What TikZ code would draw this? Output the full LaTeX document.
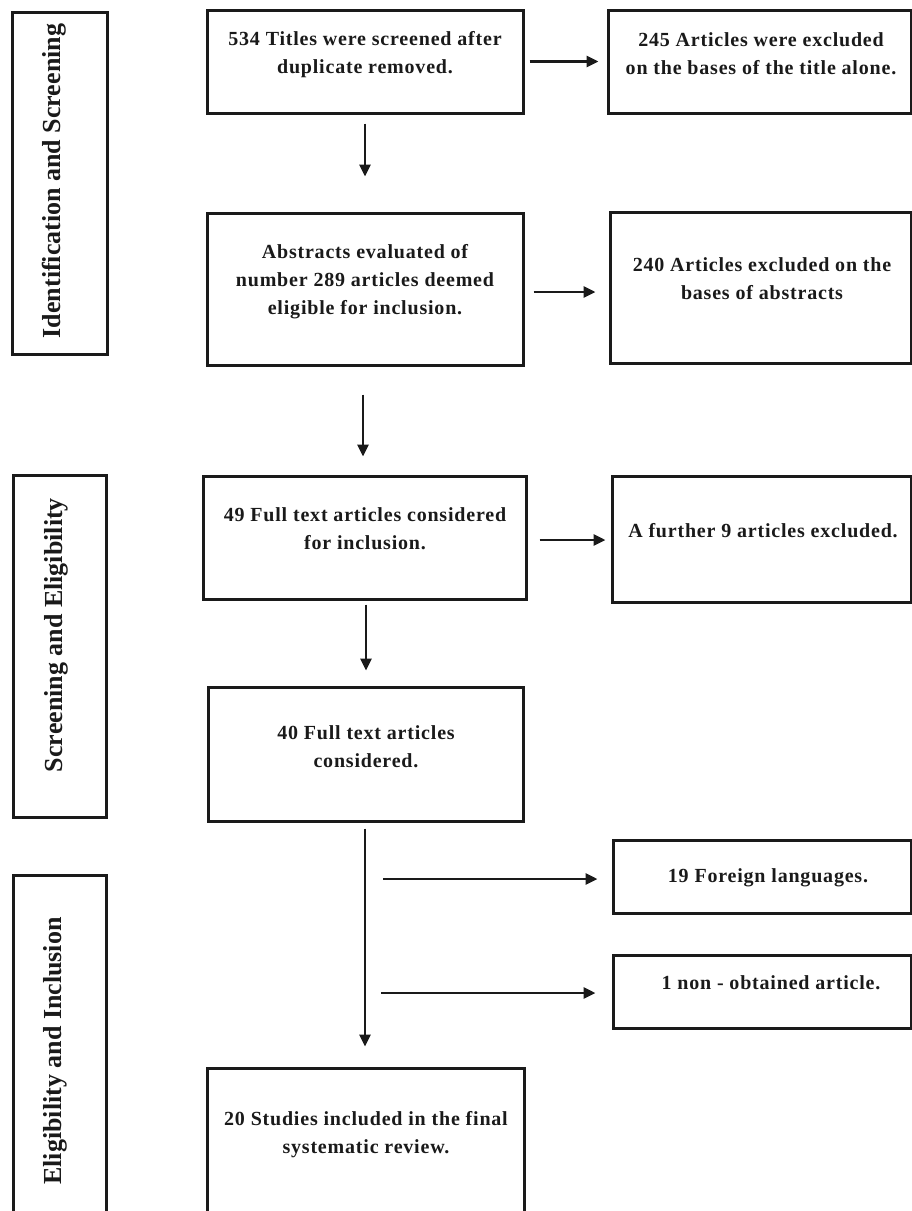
\documentclass[tikz,border=0pt]{standalone}
\usepackage{fontspec}
\setmainfont{Liberation Serif}
\usetikzlibrary{arrows.meta,calc}
\definecolor{ink}{HTML}{1A1A1A}
\begin{document}
\begin{tikzpicture}[x=1pt,y=-1pt,
  box/.style={draw=ink,line width=3pt,inner sep=0pt,fill=none},
  txt/.style={font=\fontsize{20}{28}\selectfont\bfseries\addfontfeature{LetterSpace=4},align=center,text=ink,inner sep=0pt},
  side/.style={font=\fontsize{26}{30}\selectfont\bfseries,text=ink,rotate=90,anchor=base,inner sep=0pt},
  arr/.style={draw=ink,line width=2.8pt,-{Triangle[length=12pt,width=11pt]}}]
\useasboundingbox (0,0) rectangle (912,1211);
\clip (0,0) rectangle (912,1211);
% side boxes
\node[box,minimum width=95pt,minimum height=342pt] (lab1) at (59.5,183) {};
\node[box,minimum width=93pt,minimum height=342pt] (lab2) at (59.5,646) {};
\node[box,minimum width=93pt,minimum height=355pt] (lab3) at (59.5,1052.5) {};
\node[side] (lt1) at (60,181) {Identification and Screening};
\node[side] (lt2) at (62,635) {Screening and Eligibility};
\node[side] (lt3) at (61,1051) {Eligibility and Inclusion};
% main boxes
\node[box,minimum width=316pt,minimum height=103pt] (b1) at (365,61.5) {};
\node[box,minimum width=316pt,minimum height=152pt] (b2) at (365,289) {};
\node[box,minimum width=323pt,minimum height=123pt] (b3) at (364.5,537.5) {};
\node[box,minimum width=315pt,minimum height=134pt] (b4) at (365.5,754) {};
\node[box,minimum width=317pt,minimum height=172pt] (b5) at (365.5,1154) {};
% right boxes
\node[box,minimum width=303pt,minimum height=103pt] (r1) at (759.5,61.5) {};
\node[box,minimum width=301pt,minimum height=151pt] (r2) at (760.5,287.5) {};
\node[box,minimum width=299pt,minimum height=126pt] (r3) at (761.5,539) {};
\node[box,minimum width=298pt,minimum height=73pt] (r4) at (762,876.5) {};
\node[box,minimum width=298pt,minimum height=73pt] (r5) at (762,991.5) {};
% texts
\node[txt] (t1) at (365,55) {534 Titles were screened after\\duplicate removed.};
\node[txt] (t2) at (761,54) {245 Articles were excluded\\on the bases of the title alone.};
\node[txt] (t3) at (365,281.5) {Abstracts evaluated of\\number 289 articles deemed\\eligible for inclusion.};
\node[txt] (t4) at (762,279) {240 Articles excluded on the\\bases of abstracts};
\node[txt] (t5) at (365,529) {49 Full text articles considered\\for inclusion.};
\node[txt] (t6) at (763,531) {A further 9 articles excluded.};
\node[txt] (t7) at (366,746.5) {40 Full text articles\\considered.};
\node[txt] (t8) at (768,877.5) {19 Foreign languages.};
\node[txt] (t9) at (771,983) {1 non - obtained article.};
\node[txt] (t10) at (366,1135) {20 Studies included in the final\\systematic review.};
% arrows
\draw[arr,shorten <=5pt,shorten >=8pt] (b1.east) -- (b1.east -| r1.west);
\draw[arr,shorten <=9pt,shorten >=13pt] ([yshift=-3pt]b2.east) -- ([yshift=-3pt]b2.east -| r2.west);
\draw[arr,shorten <=12pt,shorten >=5pt] ([yshift=-2.5pt]b3.east) -- ([yshift=-2.5pt]b3.east -| r3.west);
\draw[arr,shorten <=9pt,shorten >=35pt] (b1.south) -- (b1.south |- b2.north);
\draw[arr,shorten <=28pt,shorten >=18pt] ([xshift=-2pt]b2.south) -- ([xshift=-2pt]b2.south |- b3.north);
\draw[arr,shorten <=4pt,shorten >=15pt] ([xshift=1.5pt]b3.south) -- ([xshift=1.5pt]b3.south |- b4.north);
\draw[arr,shorten <=6pt,shorten >=20pt] ([xshift=-0.5pt]b4.south) -- ([xshift=-0.5pt]b4.south |- b5.north);
\coordinate (s1) at (383,879);
\coordinate (s2) at (381,993);
\draw[arr,shorten >=14pt] (s1) -- (s1 -| r4.west);
\draw[arr,shorten >=16pt] (s2) -- (s2 -| r5.west);
\end{tikzpicture}
\end{document}
